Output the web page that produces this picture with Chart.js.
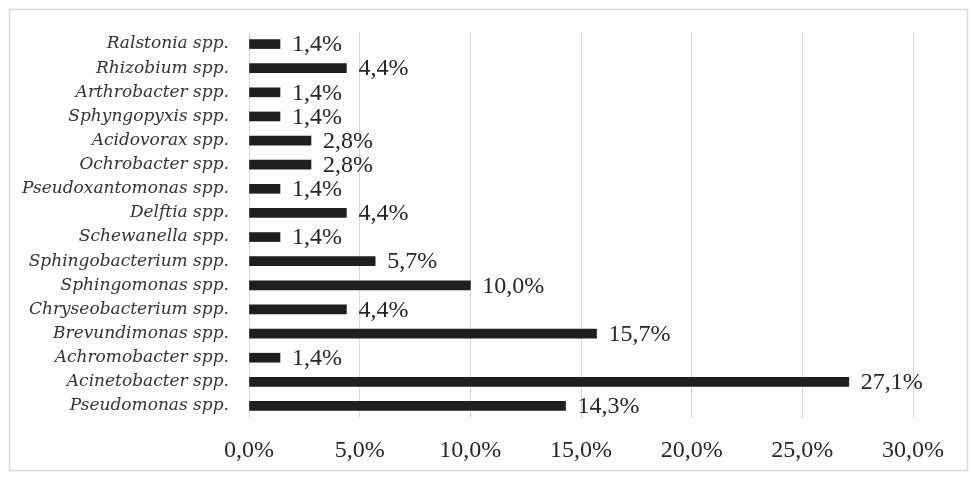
<!DOCTYPE html>
<html>
<head>
<meta charset="utf-8">
<script src="https://cdn.jsdelivr.net/npm/chart.js@4"></script>
<style>
  html, body { margin: 0; padding: 0; background: #fff; }
  #wrap { position: relative; width: 975px; height: 484px; }
</style>
</head>
<body>
<div id="wrap"><canvas id="chart" width="975" height="484"></canvas></div>
<script>
// data
const genera = [
  'Ralstonia spp.', 'Rhizobium spp.', 'Arthrobacter spp.', 'Sphyngopyxis spp.',
  'Acidovorax spp.', 'Ochrobacter spp.', 'Pseudoxantomonas spp.', 'Delftia spp.',
  'Schewanella spp.', 'Sphingobacterium spp.', 'Sphingomonas spp.', 'Chryseobacterium spp.',
  'Brevundimonas spp.', 'Achromobacter spp.', 'Acinetobacter spp.', 'Pseudomonas spp.'
];
const shares = [1.4, 4.4, 1.4, 1.4, 2.8, 2.8, 1.4, 4.4, 1.4, 5.7, 10.0, 4.4, 15.7, 1.4, 27.1, 14.3];
const xTicks = [0, 5, 10, 15, 20, 25, 30];

const fmt = v => v.toFixed(1).replace('.', ',') + '%';
const numFont = '"Liberation Serif", "Times New Roman", serif';

// outer frame around the figure
const framePlugin = {
  id: 'frame',
  beforeDraw(chart) {
    const ctx = chart.ctx;
    ctx.save();
    ctx.strokeStyle = '#d9d9d9';
    ctx.lineWidth = 1.5;
    ctx.strokeRect(9.5, 9.5, 958, 461);
    ctx.restore();
  }
};

// value labels at the end of each bar
const valueLabels = {
  id: 'valueLabels',
  afterDatasetsDraw(chart) {
    const ctx = chart.ctx;
    const meta = chart.getDatasetMeta(0);
    const xs = chart.scales.x;
    ctx.save();
    ctx.font = '24px ' + numFont;
    ctx.fillStyle = '#262626';
    ctx.textBaseline = 'middle';
    ctx.textAlign = 'left';
    meta.data.forEach((bar, i) => {
      const x = xs.getPixelForValue(shares[i]) + 12;
      ctx.fillText(fmt(shares[i]), x, bar.y + 1);
    });
    ctx.restore();
  }
};

new Chart(document.getElementById('chart'), {
  type: 'bar',
  data: {
    labels: genera,
    datasets: [{
      data: shares,
      backgroundColor: '#1f1f1f',
      barThickness: 9,
      borderWidth: 0
    }]
  },
  options: {
    indexAxis: 'y',
    responsive: false,
    animation: false,
    layout: { padding: { top: 32, bottom: 20, left: 0, right: 62 } },
    plugins: { legend: { display: false }, tooltip: { enabled: false } },
    scales: {
      x: {
        min: 0,
        max: 30,
        afterBuildTicks(scale) { scale.ticks = xTicks.map(v => ({ value: v })); },
        afterFit(scale) { scale.height = 46; },
        grid: { color: '#d9d9d9', lineWidth: 1, drawTicks: false },
        border: { display: false },
        ticks: {
          padding: 18,
          color: '#262626',
          font: { family: numFont, size: 24 },
          callback: v => fmt(v)
        }
      },
      y: {
        afterFit(scale) { scale.width = 249; },
        grid: { display: false, drawTicks: false },
        border: { display: false },
        ticks: {
          padding: 20,
          color: '#333333',
          font: { family: '"DejaVu Serif", serif', size: 17, style: 'italic' }
        }
      }
    }
  },
  plugins: [framePlugin, valueLabels]
});
</script>
</body>
</html>
